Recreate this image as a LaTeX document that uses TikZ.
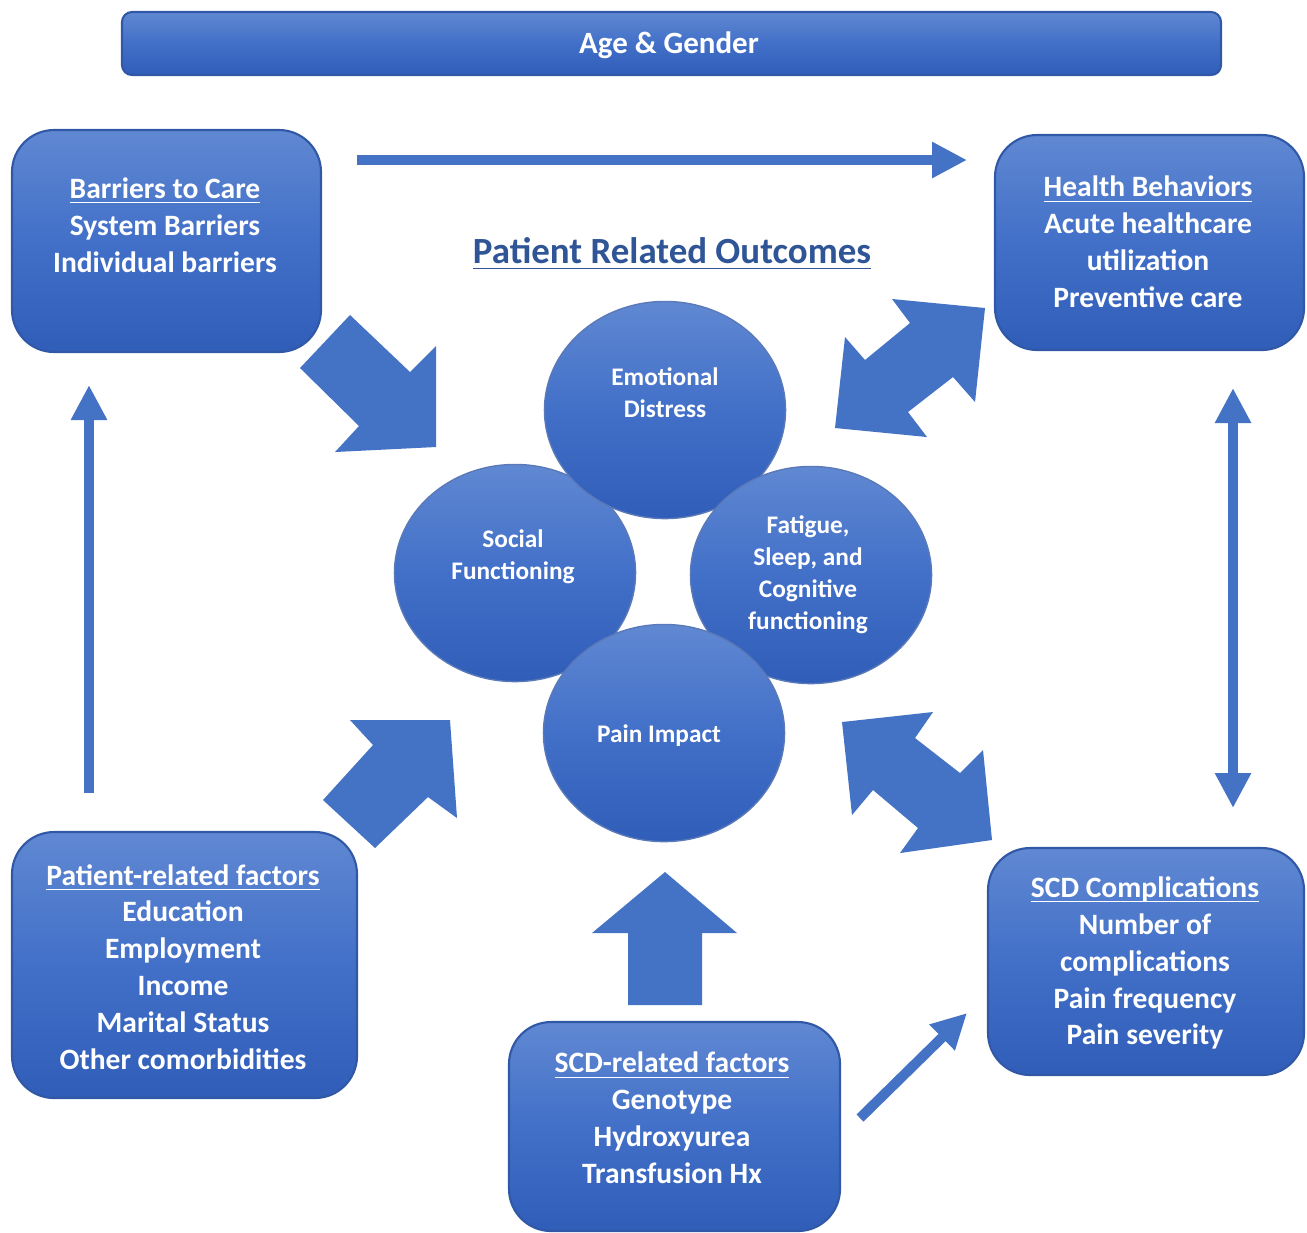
\documentclass[tikz,border=0pt]{standalone}
\usepackage{fontspec}
\usepackage{amsmath}
\setmainfont{Carlito}
\usetikzlibrary{arrows.meta,shapes.geometric,fit}
\definecolor{arrowblue}{HTML}{4472C4}
\definecolor{boxtop}{HTML}{6088D2}
\definecolor{boxmid}{HTML}{4270C8}
\definecolor{boxbot}{HTML}{305DB8}
\definecolor{boxline}{HTML}{3158A6}
\definecolor{titleblue}{HTML}{2F5597}
\newcommand\ulx[1]{\underline{\smash[b]{#1}}}
\begin{document}
\begin{tikzpicture}[x=0.01cm,y=-0.01cm,
  box/.style={draw=boxline, line width=0.6pt, top color=boxtop, bottom color=boxbot, middle color=boxmid, inner sep=0pt, outer sep=0pt},
  circ/.style={ellipse, draw=boxline!80, line width=0.4pt, top color=boxtop, bottom color=boxbot, middle color=boxmid, inner sep=0pt, minimum width=2.41cm, minimum height=2.17cm},
  boxtext/.style={text=white, font=\bfseries\fontsize{8.4}{10.5}\selectfont, align=center, inner sep=0pt},
  circtext/.style={text=white, font=\bfseries\fontsize{7.2}{9.1}\selectfont, align=center, inner sep=0pt},
  tarrow/.style={draw=arrowblue, line width=0.1cm, -{Triangle[length=0.35cm,width=0.34cm]}},
  tboth/.style={draw=arrowblue, line width=0.1cm, {Triangle[length=0.35cm,width=0.34cm]}-{Triangle[length=0.35cm,width=0.34cm]}},
  block/.style={fill=arrowblue}
]
\fill[white] (0,0) rectangle (1307,1232);
\useasboundingbox (0,0) rectangle (1307,1232);

% boxes
\node[box, rounded corners=0.1cm, fit={(122,12)(1221,75)}] (age) {};
\node[box, rounded corners=0.42cm, fit={(12,130)(321,352)}] (barriers) {};
\node[box, rounded corners=0.42cm, fit={(995,135)(1304,350)}] (health) {};
\node[box, rounded corners=0.42cm, fit={(12,832)(357,1098)}] (patient) {};
\node[box, rounded corners=0.42cm, fit={(988,848)(1304,1075)}] (complic) {};
\node[box, rounded corners=0.42cm, fit={(509,1022)(840,1231)}] (scdrel) {};

% texts in boxes
\node[boxtext, font=\bfseries\fontsize{8.8}{10.5}\selectfont] (ageT) at (669,45) {Age \& Gender};
\node[boxtext] (barriersT) at (165,225) {\ulx{Barriers to Care}\\System Barriers\\Individual barriers};
\node[boxtext] (healthT) at (1148,242) {\ulx{Health Behaviors}\\Acute healthcare\\utilization\\Preventive care};
\node[boxtext] (patientT) at (183,967) {\ulx{Patient-related factors}\\Education\\Employment\\Income\\Marital Status\\Other comorbidities};
\node[boxtext] (complicT) at (1145,963) {\ulx{SCD Complications}\\Number of\\complications\\Pain frequency\\Pain severity};
\node[boxtext] (scdrelT) at (672,1118) {\ulx{SCD-related factors}\\Genotype\\Hydroxyurea\\Transfusion Hx};

% title
\node[text=titleblue, font=\bfseries\fontsize{10.5}{13}\selectfont, inner sep=0pt] (pro) at (672,254) {\ulx{Patient Related Outcomes}};

% circles
\node[circ] (social) at (515,573) {};
\node[circ] (emotional) at (665,410) {};
\node[circ] (fatigue) at (811,575) {};
\node[circ] (pain) at (664,733) {};
\node[circtext] (emotionalT) at (665,393) {Emotional\\Distress};
\node[circtext] (socialT) at (513,557) {Social\\Functioning};
\node[circtext] (fatigueT) at (808,575) {Fatigue,\\Sleep, and\\Cognitive\\functioning};
\node[circtext] (painT) at (659,736) {Pain Impact};

% block arrows
\fill[block] (300,368) -- (350,315) -- (410,372) -- (436,346) -- (436,447) -- (335,452) -- (359,426) -- cycle;
\fill[block] (985,308) -- (975,402) -- (953,377) -- (908,412) -- (927,437) -- (835,428) -- (845,337) -- (865,360) -- (910,323) -- (892,299) -- cycle;
\fill[block] (350,720) -- (450,720) -- (457,818) -- (428,797) -- (375,848) -- (323,800) -- (373,745) -- cycle;
\fill[block] (842,722) -- (933,712) -- (915,738) -- (960,773) -- (983,750) -- (992,840) -- (900,853) -- (918,828) -- (873,790) -- (852,815) -- cycle;
\fill[block] (665,872) -- (737,933) -- (702,933) -- (702,1005) -- (628,1005) -- (628,933) -- (592,933) -- cycle;

% thin arrows
\coordinate (a1s) at (357,160); \coordinate (a1e) at (967,160);
\coordinate (a2s) at (89,793);  \coordinate (a2e) at (89,385);
\coordinate (a3s) at (1233,808); \coordinate (a3e) at (1233,388);
\coordinate (a4s) at (860,1118); \coordinate (a4e) at (967,1013);
\draw[tarrow] (a1s) -- (a1e);
\draw[tarrow] (a2s) -- (a2e);
\draw[tboth] (a3s) -- (a3e);
\draw[tarrow] (a4s) -- (a4e);
\end{tikzpicture}
\end{document}
